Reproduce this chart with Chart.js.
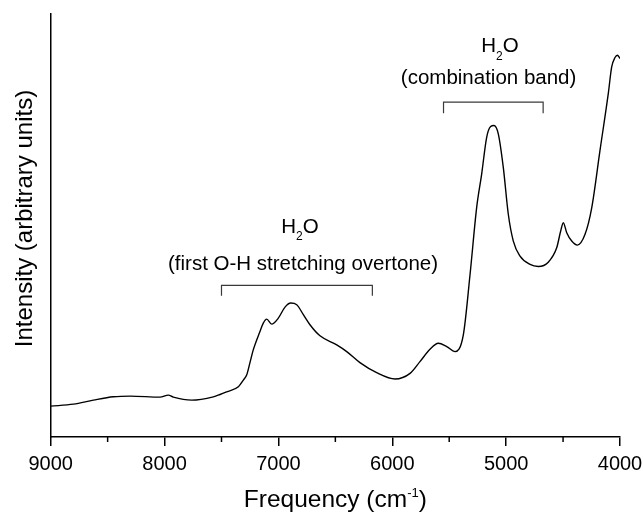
<!DOCTYPE html>
<html>
<head>
<meta charset="utf-8">
<script src="https://cdn.jsdelivr.net/npm/chart.js@4.4.0/dist/chart.umd.min.js"></script>
<style>
  html, body { margin: 0; padding: 0; background: #fff; }
  #wrap { width: 643px; height: 512px; }
</style>
</head>
<body>
<div id="wrap"><canvas id="nir-chart" width="643" height="512"></canvas></div>
<script>
// NIR spectrum, wavenumber (cm-1) vs intensity (arbitrary units)
const wavenumbers = [
  9000, 8800, 8625, 8450, 8300, 8040, 7967, 7923, 7762, 7572,
  7513, 7454, 7352, 7308, 7279, 7250, 7221, 7162, 7133, 7103,
  7059, 7001, 6942, 6892, 6839, 6781, 6723, 6635, 6488, 6400,
  6284, 6137, 5976, 5844, 5757, 5669, 5596, 5522, 5449, 5376,
  5317, 5259, 5215, 5171, 5136, 5107, 5069, 5025, 4981, 4937,
  4878, 4790, 4717, 4630, 4556, 4521, 4498, 4468, 4424, 4375,
  4307, 4248, 4176, 4103, 4073, 4044, 4023, 4000
];
const intensity = [
  30.7, 32.7, 36.7, 40.0, 40.7, 39.7, 41.7, 39.7, 36.7, 40.0,
  42.3, 45.0, 50.0, 56.7, 61.7, 74.0, 86.7, 105.0, 113.3, 117.3,
  112.3, 118.3, 129.3, 133.3, 131.7, 121.7, 111.7, 100.7, 91.7, 85.0,
  74.0, 64.0, 57.7, 63.3, 75.0, 87.3, 93.3, 90.0, 85.0, 101.7,
  161.7, 228.3, 261.7, 298.3, 309.0, 310.0, 301.7, 268.3, 221.7, 195.0,
  180.0, 171.7, 169.7, 174.0, 188.3, 205.0, 213.3, 203.3, 195.0, 191.0,
  201.7, 228.3, 285.0, 341.7, 368.3, 377.7, 380.0, 376.7
];
const xTicks = [9000, 8000, 7000, 6000, 5000, 4000];
const xMinorTicks = [8500, 7500, 6500, 5500, 4500];

// band assignments: bracket span/height and the two label lines above it
const bands = [
  { from: 7500, to: 6175, top: 151, legs: 140.5,
    formulaAt: 6811, formulaY: 203.3, note: '(first O-H stretching overtone)', noteAt: 6784, noteY: 166.7 },
  { from: 5550, to: 4675, top: 333.3, legs: 322.3,
    formulaAt: 5054, formulaY: 382.7, note: '(combination band)', noteAt: 5154, noteY: 351.7 },
];

const FONT = "'Liberation Sans', Arial, Helvetica, sans-serif";

// writes a run of [text, size, rise] pieces centred on cx
function drawRich(ctx, parts, cx, baseline) {
  let total = 0;
  parts.forEach(p => { ctx.font = `${p[1]}px ${FONT}`; total += ctx.measureText(p[0]).width; });
  let px = cx - total / 2;
  ctx.textAlign = 'left';
  ctx.textBaseline = 'alphabetic';
  parts.forEach(p => {
    ctx.font = `${p[1]}px ${FONT}`;
    ctx.fillText(p[0], px, baseline - p[2]);
    px += ctx.measureText(p[0]).width;
  });
}

const decorations = {
  id: 'decorations',
  afterDraw(chart) {
    const { ctx, chartArea: area, scales: { x, y } } = chart;
    ctx.save();

    // minor ticks on the frequency axis
    ctx.strokeStyle = '#000';
    ctx.lineWidth = 1.5;
    xMinorTicks.forEach(v => {
      const px = x.getPixelForValue(v);
      ctx.beginPath();
      ctx.moveTo(px, area.bottom);
      ctx.lineTo(px, area.bottom + 5);
      ctx.stroke();
    });

    // band brackets and labels
    ctx.fillStyle = '#000';
    bands.forEach(b => {
      const x1 = x.getPixelForValue(b.from), x2 = x.getPixelForValue(b.to);
      const yt = y.getPixelForValue(b.top), yl = y.getPixelForValue(b.legs);
      ctx.strokeStyle = '#3a3a3a';
      ctx.lineWidth = 1.2;
      ctx.beginPath();
      ctx.moveTo(x1, yl);
      ctx.lineTo(x1, yt);
      ctx.lineTo(x2, yt);
      ctx.lineTo(x2, yl);
      ctx.stroke();

      drawRich(ctx, [['H', 20.5, 0], ['2', 12, -7.5], ['O', 20.5, 0]],
        x.getPixelForValue(b.formulaAt), y.getPixelForValue(b.formulaY));
      drawRich(ctx, [[b.note, 20.5, 0]], x.getPixelForValue(b.noteAt), y.getPixelForValue(b.noteY));
    });

    // axis titles
    drawRich(ctx, [['Frequency (cm', 24.5, 0], ['-1', 13, 10], [')', 24.5, 0]],
      (area.left + area.right) / 2, 507);

    ctx.translate(32, (area.top + area.bottom) / 2 - 7);
    ctx.rotate(-Math.PI / 2);
    drawRich(ctx, [['Intensity (arbitrary units)', 24, 0]], 0, 0);

    ctx.restore();
  }
};

const spectrumChart = new Chart(document.getElementById('nir-chart'), {
  type: 'line',
  data: {
    datasets: [{
      data: wavenumbers.map((w, i) => ({ x: w, y: intensity[i] })),
      borderColor: '#000',
      borderWidth: 1.4,
      pointRadius: 0,
      cubicInterpolationMode: 'monotone',
      fill: false,
    }],
  },
  options: {
    responsive: false,
    animation: false,
    events: [],
    layout: { autoPadding: false, padding: { left: 50.7, top: 14, right: 23, bottom: 30 } },
    plugins: { legend: { display: false }, tooltip: { enabled: false } },
    scales: {
      x: {
        type: 'linear',
        reverse: true,
        min: 4000,
        max: 9000,
        afterBuildTicks: axis => { axis.ticks = xTicks.map(v => ({ value: v })); },
        // end labels may hang over the plot edges, the fixed padding leaves room for them
        afterFit: axis => { axis.paddingLeft = 0; axis.paddingRight = 0; },
        grid: { display: true, drawOnChartArea: false, drawTicks: true, tickLength: 9, color: '#000', lineWidth: 1.5 },
        border: { display: true, color: '#000', width: 1.5 },
        ticks: { color: '#000', font: { family: FONT, size: 20 }, padding: 6, maxRotation: 0, autoSkip: false,
                 callback: v => String(v) },
      },
      y: {
        min: 0,
        max: 421,
        grid: { display: false, drawTicks: false },
        border: { display: true, color: '#000', width: 1.5 },
        ticks: { display: false },
      },
    },
  },
  plugins: [decorations],
});
</script>
</body>
</html>
